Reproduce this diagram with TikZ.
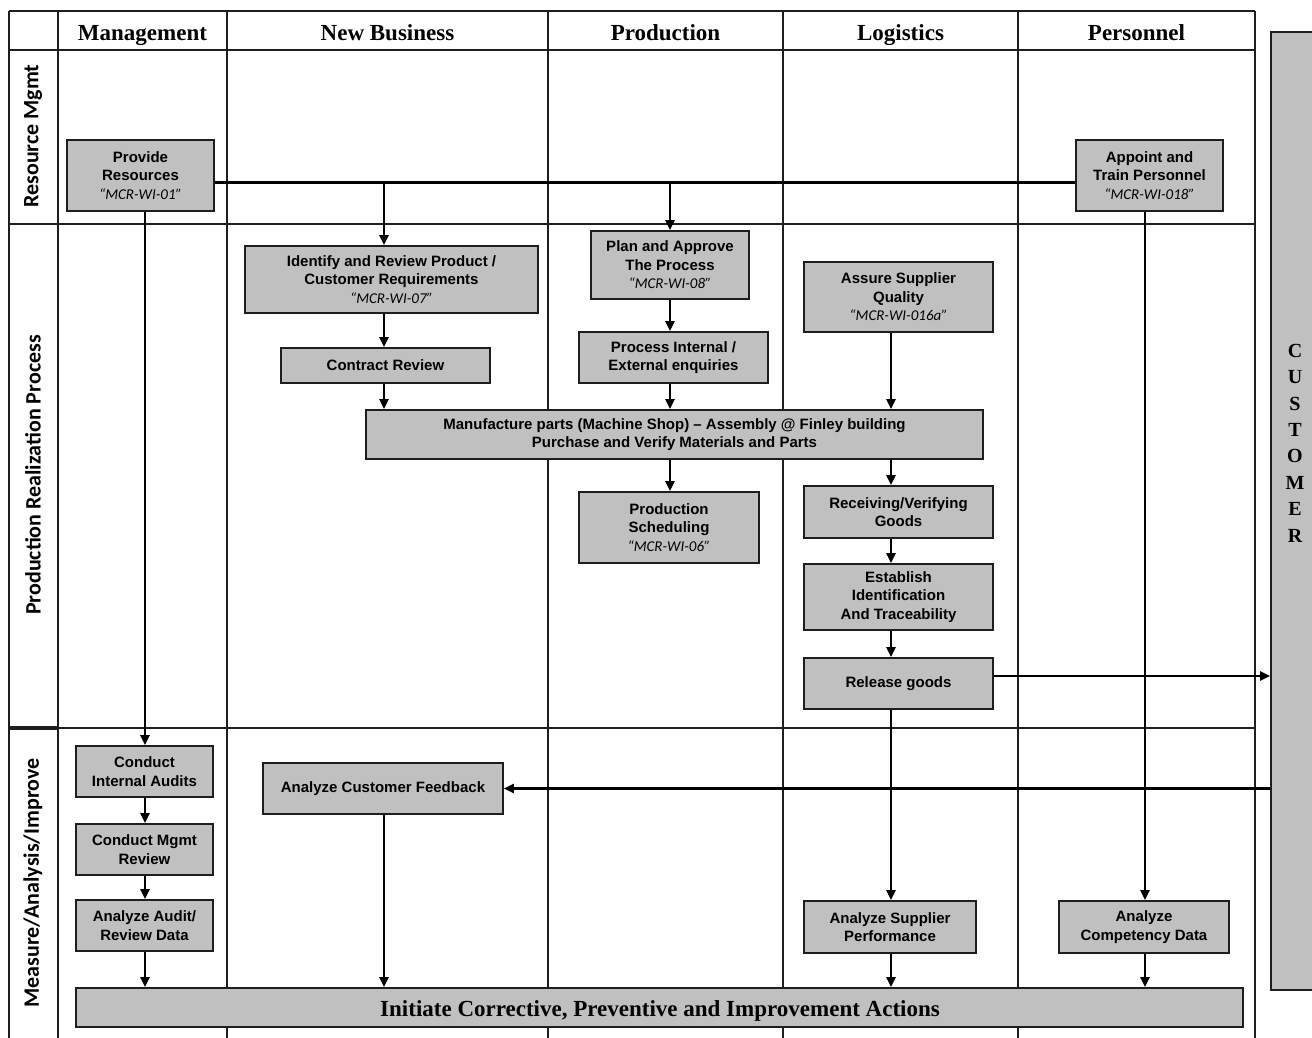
\documentclass[tikz,border=0pt]{standalone}
\usepackage{fontspec}
\setmainfont{Liberation Sans}
\newfontfamily\hdrfont{Liberation Serif}
\newfontfamily\lblfont{Carlito}
\usetikzlibrary{arrows.meta}

\definecolor{boxgray}{RGB}{192,192,192}
\definecolor{linedark}{RGB}{30,30,30}

\tikzset{
  proc/.style={draw=linedark, line width=1.7pt, fill=boxgray, inner sep=0pt, align=center,
    font=\fontsize{15}{18.5}\selectfont\bfseries},
  gridline/.style={draw=linedark, line width=1.6pt},
  flow/.style={line width=2.5pt, -{Triangle[length=10pt,width=9pt]}},
  plainflow/.style={line width=3pt},
  hdr/.style={font=\hdrfont\fontsize{23}{27}\selectfont\bfseries, anchor=base},
  rowlbl/.style={font=\lblfont\fontsize{22}{26}\selectfont\bfseries, rotate=90},
}
\newcommand{\mcr}[1]{{\lblfont\mdseries\itshape “#1”}}
\newcommand{\procbox}[6]{%
  \node[proc, minimum width={#4-#2}, minimum height={#5-#3}] (#1) at ({(#2+#4)/2},{(#3+#5)/2}) {#6};}

\begin{document}
\begin{tikzpicture}[x=1pt,y=-1pt]
\useasboundingbox (0,0) rectangle (1312,1038);

% ---------- grid ----------
\draw[gridline] (9,11) -- (1255,11);
\draw[gridline] (9,50) -- (1255,50);
\draw[gridline] (9,224) -- (1255,224);
\draw[gridline] (9,728) -- (1255,728);
\foreach \gx in {9,58,227,548,783,1018,1255}
  \draw[gridline] (\gx,11) -- (\gx,1038);
\draw[draw=linedark, line width=3.5pt] (9,728) -- (58,728);

% ---------- headers ----------
\node[hdr] (hmg) at (142.5,41) {Management};
\node[hdr] (hnb) at (387.5,41) {New Business};
\node[hdr] (hpr) at (665.5,41) {Production};
\node[hdr] (hlg) at (900.5,41) {Logistics};
\node[hdr] (hps) at (1136.5,41) {Personnel};

% ---------- row labels ----------
\node[rowlbl] (lrm) at (33,136) {Resource Mgmt};
\node[rowlbl] (lpr) at (33,475) {Production Realization Process};
\node[rowlbl] (lma) at (33,883) {Measure/Analysis/Improve};

% ---------- customer ----------
\node[draw=linedark, line width=1.7pt, fill=boxgray, minimum width=50, minimum height=958, inner sep=0pt]
  (cust) at (1296,511) {};
\node[font=\hdrfont\fontsize{20}{26.4}\selectfont\bfseries, align=center] (custlbl) at (1295,443)
  {C\\U\\S\\T\\O\\M\\E\\R};

% ---------- boxes ----------
\procbox{pr}{67}{140}{214}{211}{Provide\\Resources\\\mcr{MCR-WI-01}}
\procbox{ap}{1076}{140}{1223}{211}{Appoint and\\Train Personnel\\\mcr{MCR-WI-018}}
\procbox{idr}{245}{246}{538}{313}{Identify and Review Product /\\Customer Requirements\\\mcr{MCR-WI-07}}
\procbox{cr}{281}{348}{490}{383}{Contract Review}
\procbox{pa}{591}{231}{749}{299}{Plan and Approve\\The Process\\\mcr{MCR-WI-08}}
\procbox{pie}{579}{332}{768}{383}{Process Internal /\\External enquiries}
\procbox{asq}{804}{262}{993}{332}{Assure Supplier\\Quality\\\mcr{MCR-WI-016a}}
\procbox{mfg}{366}{410}{983}{459}{Manufacture parts (Machine Shop) – Assembly @ Finley building\\Purchase and Verify Materials and Parts}
\procbox{ps}{579}{492}{759}{563}{Production\\Scheduling\\\mcr{MCR-WI-06}}
\procbox{rvg}{804}{486}{993}{538}{Receiving/Verifying\\Goods}
\procbox{eit}{804}{564}{993}{630}{Establish\\Identification\\And Traceability}
\procbox{rel}{804}{658}{993}{709}{Release goods}
\procbox{cia}{76}{746}{213}{797}{Conduct\\Internal Audits}
\procbox{cmr}{76}{824}{213}{875}{Conduct Mgmt\\Review}
\procbox{aar}{76}{900}{213}{951}{Analyze Audit/\\Review Data}
\procbox{acf}{263}{763}{503}{814}{Analyze Customer Feedback}
\procbox{asp}{804}{901}{976}{953}{Analyze Supplier\\Performance}
\procbox{acd}{1059}{901}{1229}{953}{Analyze\\Competency Data}
\node[proc, minimum width=1167, minimum height=39] (init) at (659.5,1007.5) {};
\node[font=\hdrfont\fontsize{23}{27}\selectfont\bfseries, anchor=base] (inittxt) at (660,1016.5)
  {Initiate Corrective, Preventive and Improvement Actions};

% ---------- helper coordinates ----------
\coordinate (bus) at (0,182);
\coordinate (mgx) at (145,0);
\coordinate (nbx) at (384,0);
\coordinate (pdx) at (670,0);
\coordinate (lgx) at (891,0);
\coordinate (psx) at (1145,0);
\coordinate (rely) at (0,676);

% ---------- connectors ----------
\draw[plainflow] (pr.east |- bus) -- (ap.west |- bus);
\draw[flow] (nbx |- bus) -- (nbx |- idr.north);
\draw[flow] (pdx |- bus) -- (pdx |- pa.north);

\draw[flow] (mgx |- pr.south) -- (mgx |- cia.north);
\draw[flow] (psx |- ap.south) -- (psx |- acd.north);

\draw[flow] (nbx |- idr.south) -- (nbx |- cr.north);
\draw[flow] (nbx |- cr.south) -- (nbx |- mfg.north);
\draw[flow] (pdx |- pa.south) -- (pdx |- pie.north);
\draw[flow] (pdx |- pie.south) -- (pdx |- mfg.north);
\draw[flow] (lgx |- asq.south) -- (lgx |- mfg.north);
\draw[flow] (pdx |- mfg.south) -- (pdx |- ps.north);
\draw[flow] (lgx |- mfg.south) -- (lgx |- rvg.north);
\draw[flow] (lgx |- rvg.south) -- (lgx |- eit.north);
\draw[flow] (lgx |- eit.south) -- (lgx |- rel.north);
\draw[flow] (rel.east |- rely) -- (cust.west |- rely);
\draw[flow] (lgx |- rel.south) -- (lgx |- asp.north);
\draw[flow] (cust.west |- acf.east) -- (acf.east);

\draw[flow] (mgx |- cia.south) -- (mgx |- cmr.north);
\draw[flow] (mgx |- cmr.south) -- (mgx |- aar.north);
\draw[flow] (mgx |- aar.south) -- (mgx |- init.north);
\draw[flow] (nbx |- acf.south) -- (nbx |- init.north);
\draw[flow] (lgx |- asp.south) -- (lgx |- init.north);
\draw[flow] (psx |- acd.south) -- (psx |- init.north);
\end{tikzpicture}
\end{document}
